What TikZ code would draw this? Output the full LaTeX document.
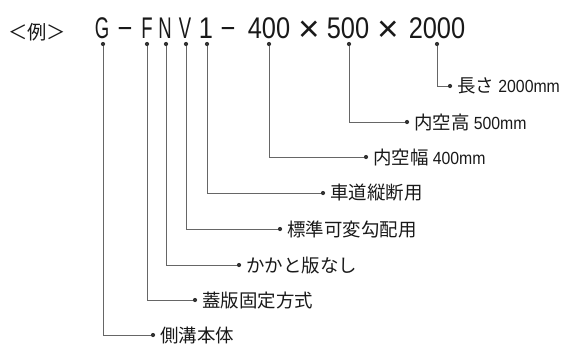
\documentclass[tikz,border=0pt]{standalone}
\usepackage{fontspec}
\setmainfont{Liberation Sans}
\newfontfamily\jpfont{Noto Sans CJK JP}
\newfontfamily\codefont[FakeStretch=0.85]{Liberation Sans}
\newfontfamily\codenarrow[FakeStretch=0.62]{Liberation Sans}
\newfontfamily\numfont[FakeStretch=0.9]{Liberation Sans}
\newcommand{\mmnum}[1]{{\fontsize{10}{11}\numfont #1}}
\usetikzlibrary{calc}

\begin{document}
\begin{tikzpicture}[x=0.2mm,y=-0.2mm]

\tikzstyle{code} = [inner sep=0,anchor=base,font=\fontsize{17}{17}\codefont,text=black!90]%
\tikzstyle{codeltr} = [code,font=\fontsize{17}{17}\codenarrow]%
\tikzstyle{codetimes} = [code,font=\fontsize{21}{21}\selectfont]%
\tikzstyle{dot} = [circle,fill=black!80,inner sep=0,minimum size=2.4pt]%
\tikzstyle{lead} = [draw=black!60,line width=0.5pt]%
\tikzstyle{desc} = [inner sep=0,anchor=west,font=\fontsize{10.5}{12}\jpfont,text=black!90]%

\useasboundingbox (0,0) rectangle (568,345);

\node[code,font=\fontsize{11}{12}\jpfont] (ex) at (37, 39) {＜例＞};

\node[codeltr] (cg) at (102, 38) {G};
\node[code] (d1) at (125, 38) {−};
\node[codeltr] (cf) at (147, 38) {F};
\node[codeltr] (cn) at (165, 38) {N};
\node[codeltr] (cv) at (185, 38) {V};
\node[code] (c1) at (206, 38) {1};
\node[code] (d2) at (228, 38) {−};
\node[code] (cw) at (269, 38) {400};
\node[codetimes] (x1) at (309, 41) {×};
\node[code] (ch) at (348, 38) {500};
\node[codetimes] (x2) at (388, 41) {×};
\node[code] (cl) at (437, 38) {2000};

\node[dot] (g) at (103, 44) {};
\node[dot] (f) at (147, 44) {};
\node[dot] (n) at (166, 44) {};
\node[dot] (v) at (186, 44) {};
\node[dot] (one) at (207, 44) {};
\node[dot] (w) at (269, 44) {};
\node[dot] (h) at (349, 44) {};
\node[dot] (l) at (437, 44) {};

\node[dot] (lg) at (153, 335) {};
\node[dot] (lf) at (195, 300) {};
\node[dot] (ln) at (239, 265) {};
\node[dot] (lv) at (280, 229) {};
\node[dot] (lone) at (323, 193) {};
\node[dot] (lw) at (366, 157) {};
\node[dot] (lh) at (407, 122) {};
\node[dot] (ll) at (450, 86) {};

\node[desc] (tg) at (160, 335) {側溝本体};
\node[desc] (tf) at (202, 300) {蓋版固定方式};
\node[desc] (tn) at (246, 265) {かかと版なし};
\node[desc] (tv) at (287, 229) {標準可変勾配用};
\node[desc] (tone) at (330, 193) {車道縦断用};
\node[desc] (tw) at (373, 157) {内空幅 \mmnum{400mm}};
\node[desc] (th) at (414, 122) {内空高 \mmnum{500mm}};
\node[desc] (tl) at (457, 86) {長さ \mmnum{2000mm}};

\draw[lead] (g) |- (lg);
\draw[lead] (f) |- (lf);
\draw[lead] (n) |- (ln);
\draw[lead] (v) |- (lv);
\draw[lead] (one) |- (lone);
\draw[lead] (w) |- (lw);
\draw[lead] (h) |- (lh);
\draw[lead] (l) |- (ll);

\end{tikzpicture}
\end{document}
